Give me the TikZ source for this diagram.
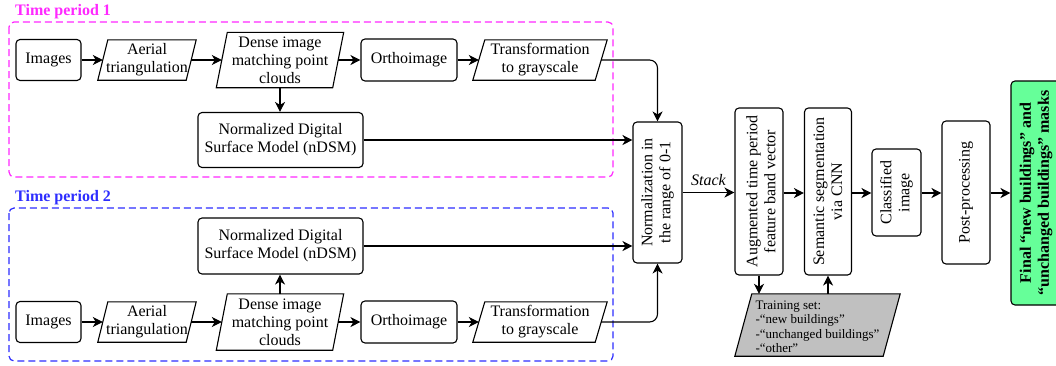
\documentclass[tikz,border=0pt]{standalone}
\usepackage{fontspec}
\setmainfont{Liberation Serif}
\usetikzlibrary{arrows.meta}
\definecolor{tpone}{RGB}{255,40,255}
\definecolor{tptwo}{RGB}{45,45,255}
\definecolor{finalgreen}{RGB}{102,255,153}
\definecolor{traingray}{RGB}{192,192,192}
\newcommand\mypara[7]{%
  \node[paratext, minimum width=#4, minimum height=#5] (#1) at (#2,#3) {#7};
  \draw[outline] ([xshift=#6]#1.north west) -- ([xshift=#6]#1.north east)
    -- ([xshift=-#6]#1.south east) -- ([xshift=-#6]#1.south west) -- cycle;}
\begin{document}
\begin{tikzpicture}[x=1pt,y=-1pt,
  every node/.style={font=\fontsize{16}{18}\selectfont, inner sep=0pt},
  outline/.style={line width=1.1pt, draw=black},
  box/.style={outline, rounded corners=4pt, align=center},
  paratext/.style={align=center},
  arr/.style={-{Stealth[length=10pt,width=10pt,inset=3pt]}, line width=1.1pt},
  frame/.style={dash pattern=on 7pt off 4pt, line width=1.2pt, rounded corners=5pt},
  vtext/.style={rotate=90, align=center},
  flabel/.style={anchor=west, font=\fontsize{16}{18}\selectfont\bfseries},
  small/.style={font=\fontsize{13}{14.5}\selectfont}
]
\useasboundingbox (0,0) rectangle (1056,365);

% frames
\draw[frame, draw=tpone] (9,22) rectangle (613,177);
\draw[frame, draw=tptwo] (9,208) rectangle (613,361);
\node[flabel, text=tpone] (lab1) at (15,12) {Time period 1};
\node[flabel, text=tptwo] (lab2) at (15,198) {Time period 2};

% period 1
\node[box, minimum width=65, minimum height=41] (img1) at (48.5,60) {Images};
\mypara{aer1}{147}{60}{88}{40}{5pt}{Aerial\\triangulation}
\mypara{den1}{280}{60}{116}{55}{5.5pt}{Dense image\\matching point\\clouds}
\node[box, minimum width=96, minimum height=42] (ort1) at (409,60) {Orthoimage};
\mypara{tra1}{540}{60}{122}{40}{6pt}{Transformation\\to grayscale}
\node[box, minimum width=165, minimum height=55] (nd1) at (280.5,140) {Normalized Digital\\Surface Model (nDSM)};

% period 2
\node[box, minimum width=65, minimum height=41] (img2) at (48.5,322) {Images};
\mypara{aer2}{147}{322}{88}{40}{5pt}{Aerial\\triangulation}
\mypara{den2}{280}{322}{116}{56}{5.5pt}{Dense image\\matching point\\clouds}
\node[box, minimum width=96, minimum height=42] (ort2) at (409,322) {Orthoimage};
\mypara{tra2}{540}{322}{122}{40}{6pt}{Transformation\\to grayscale}
\node[box, minimum width=165, minimum height=56] (nd2) at (280.5,246) {Normalized Digital\\Surface Model (nDSM)};

% main chain
\node[box, minimum width=49, minimum height=141] (norm) at (657.5,192.5) {};
\node[vtext] (normt) at (norm) {Normalization in\\the range of 0-1};
\node[box, minimum width=48, minimum height=167] (aug) at (759,191.5) {};
\node[vtext] (augt) at (761,191.5) {Augmented time period\\feature band vector};
\node[box, minimum width=47, minimum height=167] (sem) at (828,191.5) {};
\node[vtext] (semt) at (sem) {Semantic segmentation\\via CNN};
\node[box, minimum width=49, minimum height=87] (cls) at (896.5,192.5) {};
\node[vtext] (clst) at (cls) {Classified\\image};
\node[box, minimum width=48, minimum height=143] (post) at (966,192.5) {};
\node[vtext] (postt) at (post) {Post-processing};
\node[box, fill=finalgreen, minimum width=50, minimum height=224] (fin) at (1036,193) {};
\node[vtext, font=\fontsize{16}{18}\selectfont\bfseries] (fint) at (fin) {Final “new buildings” and\\“unchanged buildings” masks};

% training set
\node[minimum width=148, minimum height=62] (train) at (817.5,325) {};
\fill[traingray] ([xshift=8.5pt]train.north west) -- ([xshift=8.5pt]train.north east)
    -- ([xshift=-8.5pt]train.south east) -- ([xshift=-8.5pt]train.south west) -- cycle;
\draw[outline] ([xshift=8.5pt]train.north west) -- ([xshift=8.5pt]train.north east)
    -- ([xshift=-8.5pt]train.south east) -- ([xshift=-8.5pt]train.south west) -- cycle;
\node[small, align=left] (traint) at (817.5,326.5) {Training set:\\-“new buildings”\\-“unchanged buildings”\\-“other”};

% connectors period 1
\draw[arr] (img1) -- (aer1);
\draw[arr] (aer1) -- (den1);
\draw[arr] (den1) -- (ort1);
\draw[arr] (ort1) -- (tra1);
\draw[arr] (den1.south) -- (den1.south |- nd1.north);
\draw[arr, rounded corners=8pt] (tra1.east) -| (norm.north);
\draw[arr] (nd1.east) -- (nd1.east -| norm.west);

% connectors period 2
\draw[arr] (img2) -- (aer2);
\draw[arr] (aer2) -- (den2);
\draw[arr] (den2) -- (ort2);
\draw[arr] (ort2) -- (tra2);
\draw[arr] (den2.north) -- (den2.north |- nd2.south);
\draw[arr, rounded corners=8pt] (tra2.east) -| (norm.south);
\draw[arr] (nd2.east) -- (nd2.east -| norm.west);

% main chain connectors
\draw[arr] (norm.east) -- node[above=6pt, font=\fontsize{16}{18}\selectfont\itshape] (stack) {Stack} (norm.east -| aug.west);
\draw[arr] (aug.east |- 0,193) -- (sem.west |- 0,193);
\draw[arr] (sem.east |- 0,193) -- (cls.west |- 0,193);
\draw[arr] (cls.east |- 0,193) -- (post.west |- 0,193);
\draw[arr] (post.east |- 0,193) -- (fin.west |- 0,193);
\draw[arr] (aug.south) -- (aug.south |- train.north);
\draw[arr] (sem.south |- train.north) -- (sem.south);
\end{tikzpicture}
\end{document}
